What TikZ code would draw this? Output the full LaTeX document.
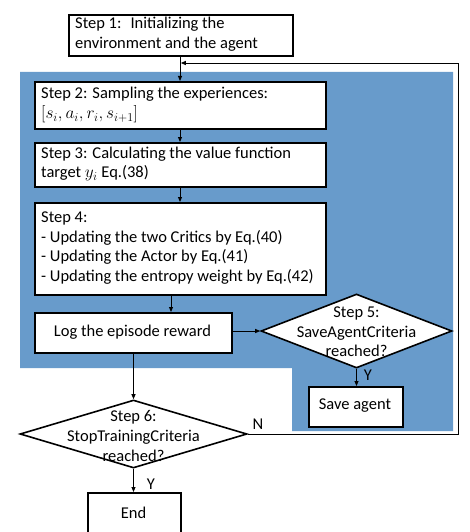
\documentclass[tikz,border=0pt]{standalone}
\usepackage{fontspec}
\setmainfont{Carlito}
\usetikzlibrary{arrows.meta,shapes.geometric}
\definecolor{regionblue}{RGB}{104,155,203}
\tikzset{
  stepbox/.style={draw=black, line width=1.6pt, fill=white, anchor=north west, inner sep=0pt},
  decision/.style={draw=black, line width=1.6pt, fill=white, diamond, inner sep=0pt},
  txt/.style={font=\fontsize{16.5}{19.7}\selectfont, align=left, anchor=west, inner sep=0pt},
  ctxt/.style={font=\fontsize{16.5}{19.7}\selectfont, align=center, inner sep=0pt},
  conn/.style={draw=black, line width=0.9pt, -{Triangle[length=5pt,width=4pt]}},
  plain/.style={draw=black, line width=0.9pt}
}
\begin{document}
\begin{tikzpicture}[x=1pt,y=-1pt]
\useasboundingbox (0,0) rectangle (470,532);
% blue region
\fill[regionblue] (20,72) -- (453,72) -- (453,431) -- (292,431) -- (292,368) -- (20,368) -- cycle;
% boxes
\node[stepbox, minimum width=224pt, minimum height=41pt] (s1) at (68,14) {};
\node[txt] at (75,34.5) {Step 1:\hspace{9pt}Initializing the\\environment and the agent};
\node[stepbox, minimum width=291pt, minimum height=47pt] (s2) at (34,81) {};
\node[txt] at (41,105) {Step 2: Sampling the experiences:\\$[s_i, a_i, r_i, s_{i+1}]$};
\node[stepbox, minimum width=291pt, minimum height=44pt] (s3) at (34,142) {};
\node[txt] at (41,164) {Step 3: Calculating the value function\\target $y_i$ Eq.(38)};
\node[stepbox, minimum width=291pt, minimum height=92pt] (s4) at (34,202) {};
\node[txt] at (41,248) {Step 4:\\- Updating the two Critics by Eq.(40)\\- Updating the Actor by Eq.(41)\\- Updating the entropy weight by Eq.(42)};
\node[stepbox, minimum width=197pt, minimum height=40pt] (log) at (34,312) {};
\node[ctxt] at (132.5,332) {Log the episode reward};
\node[decision, minimum width=191pt, minimum height=74pt] (d5) at (356.5,331) {};
\node[ctxt] at (356.5,332) {Step 5:\\SaveAgentCriteria\\reached?};
\node[stepbox, minimum width=94pt, minimum height=40pt] (save) at (308,386) {};
\node[ctxt] at (355,406) {Save agent};
\node[decision, minimum width=227pt, minimum height=68pt] (d6) at (133.5,434) {};
\node[ctxt] at (133.5,436) {Step 6:\\StopTrainingCriteria\\reached?};
\node[stepbox, minimum width=93pt, minimum height=40pt] (end) at (87,492) {};
\node[ctxt] at (133.5,513) {End};
% labels
\node[ctxt] (ly5) at (368,375) {Y};
\node[ctxt] (ln6) at (258,424) {N};
\node[ctxt] (ly6) at (151,484) {Y};
% connectors
\coordinate (j) at (180,63);
\draw[conn] (s1.south -| j) -- (s2.north -| j);
\draw[conn] (s2.south -| j) -- (s3.north -| j);
\draw[conn] (s3.south -| j) -- (s4.north -| j);
\coordinate (x4) at (171,0);
\draw[conn] (s4.south -| x4) -- (log.north -| x4);
\draw[conn] (log.east |- d5.west) -- (d5.west);
\draw[conn] (d5.south) -- (save.north -| d5.south);
\draw[conn] (log.south -| d6.north) -- (d6.north);
\draw[conn] (d6.south) -- (end.north -| d6.south);
\coordinate (fr) at (458,434);
\coordinate (fu) at (458,63);
\draw[conn] (d6.east) -- (fr) -- (fu) -- ([xshift=0.8pt]j);
\end{tikzpicture}
\end{document}
